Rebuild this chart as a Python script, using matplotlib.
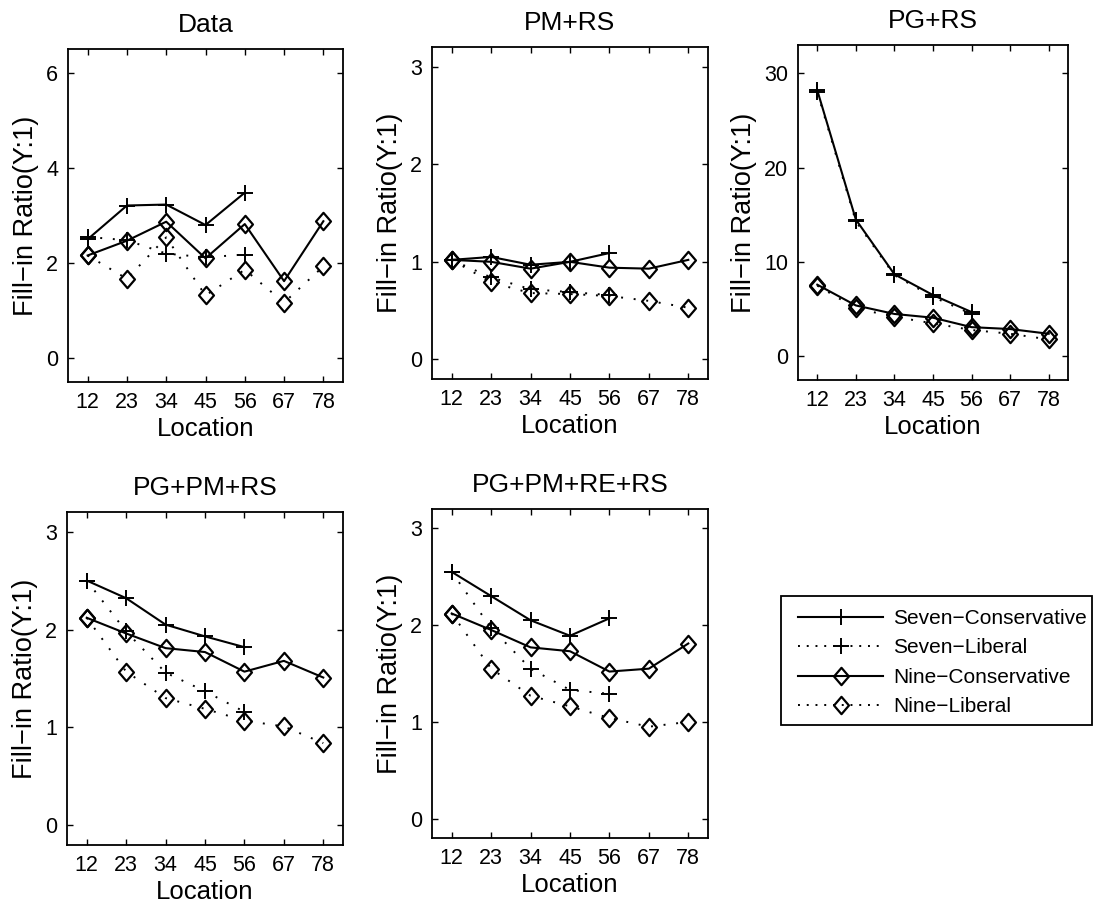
import matplotlib
matplotlib.use("Agg")
import matplotlib.pyplot as plt
from matplotlib.lines import Line2D
from matplotlib.path import Path
from matplotlib.patches import Rectangle

plt.rcParams['font.family'] = ['Liberation Sans', 'DejaVu Sans']

# Location pairs along the x axis
locations = ['12', '23', '34', '45', '56', '67', '78']

# Panel titles
titles = ['Data', 'PM+RS', 'PG+RS', 'PG+PM+RS', 'PG+PM+RE+RS']

# Fill-in ratios: seven-point series have 5 locations, nine-point series have 7
data_seven_cons = [2.50, 3.21, 3.23, 2.80, 3.48]
data_seven_lib = [2.55, 2.48, 2.20, 2.12, 2.18]
data_nine_cons = [2.16, 2.47, 2.87, 2.10, 2.82, 1.62, 2.88]
data_nine_lib = [2.16, 1.67, 2.54, 1.32, 1.86, 1.17, 1.93]

pmrs_seven_cons = [1.02, 1.05, 0.97, 1.00, 1.09]
pmrs_seven_lib = [1.02, 0.84, 0.72, 0.69, 0.66]
pmrs_nine_cons = [1.02, 1.00, 0.93, 1.00, 0.94, 0.93, 1.02]
pmrs_nine_lib = [1.02, 0.79, 0.68, 0.67, 0.65, 0.60, 0.53]

pgrs_seven_cons = [28.2, 14.5, 8.7, 6.5, 4.7]
pgrs_seven_lib = [28.0, 14.3, 8.6, 6.3, 4.5]
pgrs_nine_cons = [7.6, 5.4, 4.5, 4.1, 3.1, 2.9, 2.4]
pgrs_nine_lib = [7.5, 5.1, 4.2, 3.5, 2.8, 2.4, 1.8]

pgpmrs_seven_cons = [2.50, 2.32, 2.05, 1.93, 1.82]
pgpmrs_seven_lib = [2.50, 1.98, 1.56, 1.37, 1.16]
pgpmrs_nine_cons = [2.12, 1.96, 1.81, 1.77, 1.57, 1.68, 1.51]
pgpmrs_nine_lib = [2.12, 1.57, 1.30, 1.19, 1.07, 1.01, 0.84]

pgpmrers_seven_cons = [2.55, 2.30, 2.05, 1.89, 2.07]
pgpmrers_seven_lib = [2.55, 1.97, 1.55, 1.33, 1.29]
pgpmrers_nine_cons = [2.12, 1.95, 1.77, 1.73, 1.52, 1.55, 1.81]
pgpmrers_nine_lib = [2.12, 1.55, 1.27, 1.16, 1.04, 0.95, 1.00]

series_labels = ['Seven\u2212Conservative', 'Seven\u2212Liberal',
                 'Nine\u2212Conservative', 'Nine\u2212Liberal']

panels = [
    (data_seven_cons, data_seven_lib, data_nine_cons, data_nine_lib),
    (pmrs_seven_cons, pmrs_seven_lib, pmrs_nine_cons, pmrs_nine_lib),
    (pgrs_seven_cons, pgrs_seven_lib, pgrs_nine_cons, pgrs_nine_lib),
    (pgpmrs_seven_cons, pgpmrs_seven_lib, pgpmrs_nine_cons, pgpmrs_nine_lib),
    (pgpmrers_seven_cons, pgpmrers_seven_lib, pgpmrers_nine_cons, pgpmrers_nine_lib),
]

ylims = [(-0.5, 6.5), (-0.2, 3.2), (-2.5, 33), (-0.2, 3.2), (-0.2, 3.2)]
yticks = [[0, 2, 4, 6], [0, 1, 2, 3], [0, 10, 20, 30], [0, 1, 2, 3], [0, 1, 2, 3]]

W, H = 1103, 905
# axes boxes in pixels: left, top, right, bottom
boxes = [(68, 49, 343, 382), (432, 47, 708, 379), (798, 45, 1068, 380),
         (67, 512, 343, 845), (432, 509, 708, 838)]

# hollow diamond, a touch taller than wide
diamond = Path([(0, 1), (0.86, 0), (0, -1), (-0.86, 0), (0, 1)],
               [Path.MOVETO, Path.LINETO, Path.LINETO, Path.LINETO, Path.CLOSEPOLY])


def make_styles(dot):
    return [
        dict(linestyle='-', marker='+', markersize=12, markeredgewidth=1.4),
        dict(linestyle=dot, marker='+', markersize=12, markeredgewidth=1.4),
        dict(linestyle='-', marker=diamond, markersize=12.5, markeredgewidth=1.6,
             markerfacecolor='none'),
        dict(linestyle=dot, marker=diamond, markersize=12.5, markeredgewidth=1.6,
             markerfacecolor='none'),
    ]


styles = make_styles((0, (1.0, 5.5)))
legend_styles = make_styles((0, (1.0, 3.5)))
widths = [1.5, 1.4, 1.5, 1.4]

fig = plt.figure(figsize=(W / 100, H / 100), dpi=100)

for title, series, ylim, yt, (l, t, r, b) in zip(titles, panels, ylims, yticks, boxes):
    ax = fig.add_axes([l / W, 1 - b / H, (r - l) / W, (b - t) / H])
    for vals, st, lw in zip(series, styles, widths):
        xs = list(range(1, len(vals) + 1))
        ax.plot(xs, vals, color='black', linewidth=lw, markeredgecolor='black', **st)
    ax.set_xlim(0.5, 7.5)
    ax.set_ylim(*ylim)
    ax.set_xticks(range(1, 8))
    ax.set_xticklabels(locations)
    ax.set_yticks(yt)
    ax.tick_params(direction='in', top=True, right=True, length=4, width=1,
                   labelsize=15.5, pad=7)
    for sp in ax.spines.values():
        sp.set_linewidth(1.3)
    ax.set_title(title, fontsize=19, pad=12)
    ax.set_xlabel('Location', fontsize=18.5, labelpad=3)
    ax.set_ylabel('Fill\u2212in Ratio(Y:1)', fontsize=19.5, labelpad=5)

handles = [Line2D([], [], color='black', linewidth=lw, markeredgecolor='black', **st)
           for st, lw in zip(legend_styles, widths)]
fig.legend(handles, series_labels, loc='upper left',
           bbox_to_anchor=(798 / W, 1 - 609 / H), borderaxespad=0,
           fontsize=15, frameon=False, handlelength=4.1, handletextpad=0.45,
           labelspacing=0.5, borderpad=0, numpoints=1)

# legend frame
fig.patches.append(Rectangle((781 / W, 1 - 725 / H), (1092 - 781) / W, (725 - 596) / H,
                             transform=fig.transFigure, fill=False,
                             edgecolor='black', linewidth=1.3))

fig.savefig('out.png', dpi=100)
